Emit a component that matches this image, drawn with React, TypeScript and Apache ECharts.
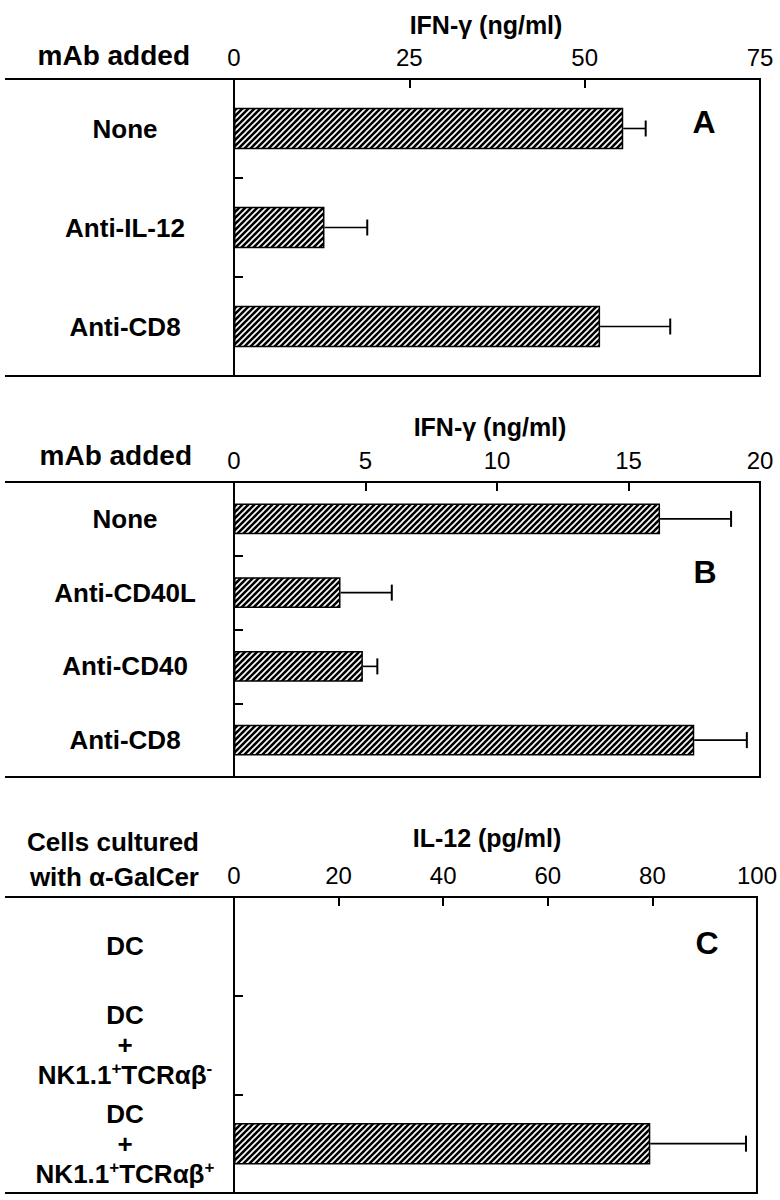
import React, { useEffect, useRef } from "react";
import * as echarts from "echarts";

// ---------- DATA ----------
const catsA = ["None", "Anti-IL-12", "Anti-CD8"];
const valsA = [55.5, 12.9, 52.2];
const errsA = [3.2, 6.1, 10.0];
const axisA = { min: 0, max: 75, interval: 25 };
const titleA = "IFN-γ (ng/ml)";

const catsB = ["None", "Anti-CD40L", "Anti-CD40", "Anti-CD8"];
const valsB = [16.2, 4.05, 4.9, 17.5];
const errsB = [2.7, 1.95, 0.55, 2.0];
const axisB = { min: 0, max: 20, interval: 5 };
const titleB = "IFN-γ (ng/ml)";

const catsC = ["DC", "DC + NK1.1+TCRαβ-", "DC + NK1.1+TCRαβ+"];
const valsC = [0, 0, 79.6];
const errsC = [0, 0, 18.3];
const axisC = { min: 0, max: 100, interval: 20 };
const titleC = "IL-12 (pg/ml)";

const FONT = "'Liberation Sans', Arial, Helvetica, sans-serif";

// ---------- LAYOUT ----------
const PLOT_LEFT = 234;
const PLOT_W = 526;
const panels = [
  { top: 79, height: 297 },
  { top: 482, height: 295 },
  { top: 897, height: 296 },
];

function makePattern() {
  const s = 6;
  const c = document.createElement("canvas");
  c.width = s;
  c.height = s;
  const ctx = c.getContext("2d")!;
  ctx.fillStyle = "#000";
  ctx.fillRect(0, 0, s, s);
  ctx.strokeStyle = "#fff";
  ctx.lineWidth = 1.6;
  ctx.beginPath();
  ctx.moveTo(-1, s + 1);
  ctx.lineTo(s + 1, -1);
  ctx.moveTo(-1, 1);
  ctx.lineTo(1, -1);
  ctx.moveTo(s - 1, s + 1);
  ctx.lineTo(s + 1, s - 1);
  ctx.stroke();
  return c;
}

function catLabelFormatter(v: string) {
  if (v.startsWith("DC + ")) {
    const sign = v.endsWith("+") ? "+" : "-";
    return `{n|DC}\n{n|+}\n{n|NK1.1}{s|+}{n|TCRαβ}{s|${sign}}`;
  }
  return v;
}

export default function App() {
  const ref = useRef<HTMLDivElement>(null);

  useEffect(() => {
    if (!ref.current) return;
    const chart = echarts.init(ref.current, undefined, { renderer: "svg" });
    const pattern = makePattern();
    const fill: any = { image: pattern, repeat: "repeat", imageWidth: 6, imageHeight: 6 };

    const cats = [catsA, catsB, catsC];
    const vals = [valsA, valsB, valsC];
    const errs = [errsA, errsB, errsC];
    const axes = [axisA, axisB, axisC];

    const grid = panels.map((p) => ({
      left: PLOT_LEFT,
      top: p.top,
      width: PLOT_W,
      height: p.height,
      show: true,
      borderColor: "#000",
      borderWidth: 2,
      backgroundColor: "transparent",
    }));

    const xAxis = axes.map((a, i) => ({
      type: "value",
      gridIndex: i,
      position: "top",
      min: a.min,
      max: a.max,
      interval: a.interval,
      axisLine: { show: false },
      axisTick: { show: true, inside: true, length: 9, lineStyle: { color: "#000", width: 2 } },
      splitLine: { show: false },
      axisLabel: { color: "#000", fontSize: 24, fontFamily: FONT, margin: 10 },
    }));

    const yAxis = cats.map((c, i) => ({
      type: "category",
      gridIndex: i,
      data: c,
      inverse: true,
      axisLine: { show: true, lineStyle: { color: "#000", width: 2 } },
      axisTick: { show: true, inside: true, length: 9, lineStyle: { color: "#000", width: 2 } },
      axisLabel: {
        color: "#000",
        fontSize: 26,
        fontWeight: "bold",
        fontFamily: FONT,
        align: "center",
        margin: PLOT_LEFT - 125,
        lineHeight: 30,
        formatter: i === 2 ? catLabelFormatter : undefined,
        rich: {
          n: { fontSize: 26, fontWeight: "bold", fontFamily: FONT, color: "#000", lineHeight: 30 },
          s: { fontSize: 17, fontWeight: "bold", fontFamily: FONT, color: "#000", lineHeight: 18, verticalAlign: "top" },
        },
      },
    }));

    const series: any[] = [];
    vals.forEach((v, i) => {
      series.push({
        type: "bar",
        xAxisIndex: i,
        yAxisIndex: i,
        data: v,
        barWidth: "42%",
        itemStyle: { color: fill, borderColor: "#000", borderWidth: 1.5 },
        silent: true,
      });
      series.push({
        type: "custom",
        xAxisIndex: i,
        yAxisIndex: i,
        data: v.map((val, j) => [val, j, errs[i][j]]),
        encode: { x: 0, y: 1 },
        z: 3,
        silent: true,
        renderItem: (params: any, api: any) => {
          const val = api.value(0);
          const c = api.value(1);
          const e = api.value(2);
          if (!e) return null;
          const p0 = api.coord([val, c]);
          const p1 = api.coord([val + e, c]);
          return {
            type: "group",
            children: [
              { type: "line", shape: { x1: p0[0], y1: p0[1], x2: p1[0], y2: p1[1] }, style: { stroke: "#000", lineWidth: 1.6 } },
              { type: "line", shape: { x1: p1[0], y1: p1[1] - 8, x2: p1[0], y2: p1[1] + 8 }, style: { stroke: "#000", lineWidth: 2 } },
            ],
          };
        },
      });
    });

    const txt = (text: string, x: number, y: number, size: number, align: string, weight = "bold") => ({
      type: "text",
      x,
      y,
      silent: true,
      style: {
        text,
        fill: "#000",
        font: `${weight} ${size}px ${FONT}`,
        textAlign: align,
        textVerticalAlign: "middle",
        align,
        verticalAlign: "middle",
      },
    });
    const hline = (y: number) => ({
      type: "line",
      silent: true,
      shape: { x1: 5, y1: y, x2: PLOT_LEFT, y2: y },
      style: { stroke: "#000", lineWidth: 2 },
    });

    const graphic: any[] = [
      txt(titleA, 486, 25, 25, "center"),
      txt("mAb added", 190, 55, 28, "right"),
      txt("A", 704, 122, 32, "center"),
      txt(titleB, 490, 427, 25, "center"),
      txt("mAb added", 192, 455, 28, "right"),
      txt("B", 705, 572, 32, "center"),
      txt(titleC, 487, 838, 25, "center"),
      txt("Cells cultured", 199, 842, 26, "right"),
      txt("with α-GalCer", 199, 877, 26, "right"),
      txt("C", 707, 943, 32, "center"),
    ];
    panels.forEach((p) => {
      graphic.push(hline(p.top));
      graphic.push(hline(p.top + p.height));
    });

    chart.setOption({
      animation: false,
      backgroundColor: "#fff",
      grid,
      xAxis,
      yAxis,
      series,
      graphic,
    });

    return () => chart.dispose();
  }, []);

  return (
    <div
      ref={ref}
      style={{ position: "absolute", left: 0, top: 0, width: 780, height: 1200, background: "#fff" }}
    />
  );
}
